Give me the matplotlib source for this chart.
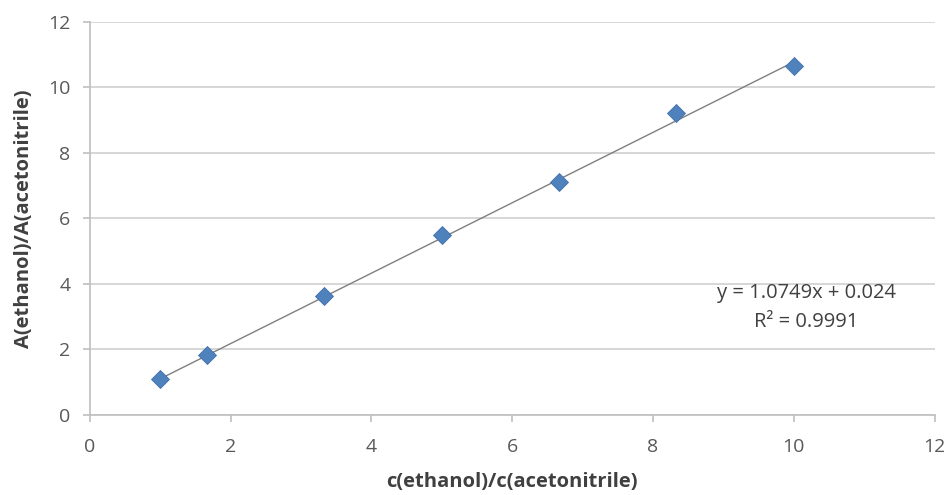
import numpy as np
import matplotlib.pyplot as plt

# calibration data
conc_ratio = [1.0, 1.667, 3.333, 5.0, 6.667, 8.333, 10.0]
area_ratio = [1.10, 1.83, 3.63, 5.50, 7.11, 9.22, 10.66]
slope = 1.0749
intercept = 0.024
r2 = 0.9991

plt.rcParams['font.family'] = ['Open Sans', 'DejaVu Sans']

fig = plt.figure(figsize=(9.45, 4.95), dpi=100)
ax = fig.add_axes([0.095, 0.162, 0.894, 0.794])

ax.set_xlim(0, 12)
ax.set_ylim(0, 12)
ax.set_xticks(range(0, 13, 2))
ax.set_yticks(range(0, 13, 2))

ax.grid(axis='y', color='#d0d0d0', lw=1.2)
ax.set_axisbelow(True)
for s in ['top', 'right']:
    ax.spines[s].set_visible(False)
for s in ['left', 'bottom']:
    ax.spines[s].set_color('#bfbfbf')
    ax.spines[s].set_linewidth(1.2)
ax.tick_params(colors='#bfbfbf', labelcolor='#595959', labelsize=14, length=5, width=1.2)
ax.tick_params(axis='x', pad=12)
ax.tick_params(axis='y', pad=9)

xfit = np.array([min(conc_ratio), max(conc_ratio)])
ax.plot(xfit, slope * xfit + intercept, color='#7f7f7f', lw=1, zorder=2)
ax.plot(conc_ratio, area_ratio, linestyle='none', marker='D', ms=9,
        color='#4f81bd', mec='#3f70aa', mew=0.6, zorder=3)

ax.text(10.18, 3.72, f'y = {slope}x + {intercept}', ha='center', va='center',
        fontsize=14.5, color='#404040')
ax.text(10.18, 2.84, f'R² = {r2}', ha='center', va='center',
        fontsize=14.5, color='#404040')

ax.set_xlabel('c(ethanol)/c(acetonitrile)', fontsize=14.5, fontweight='bold', color='#404040', labelpad=11)
ax.set_ylabel('A(ethanol)/A(acetonitrile)', fontsize=14.5, fontweight='bold', color='#404040', labelpad=10)

fig.savefig('out.png')
